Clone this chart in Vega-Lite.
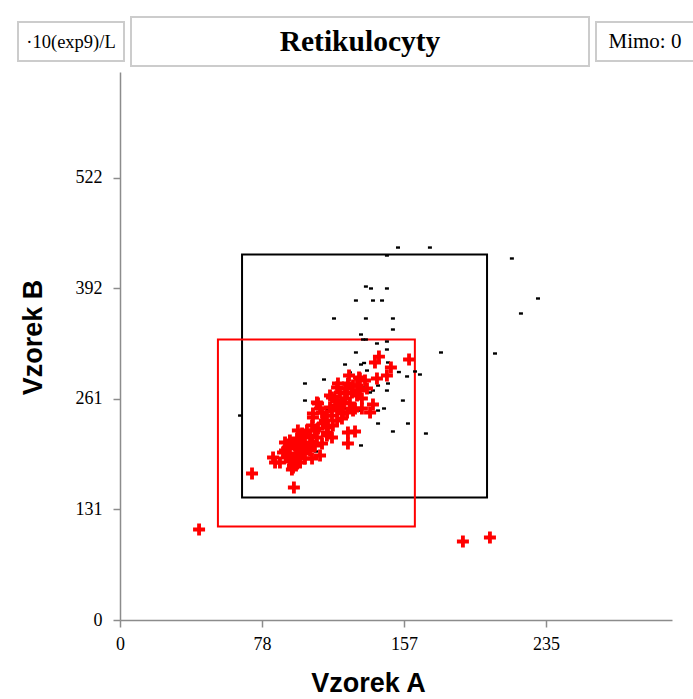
{
  "$schema": "https://vega.github.io/schema/vega-lite/v6.json",
  "padding": {"left": 17, "top": 16, "right": 0, "bottom": 0},
  "background": "white",
  "spacing": 5,
  "datasets": {
    "gates": [
      {"gate": "A", "a": 67.3, "a2": 202.4, "b": 144.5, "b2": 431.2},
      {"gate": "B", "a": 54.0, "a2": 162.6, "b": 110.3, "b2": 330.9}
    ],
    "black": [
      {"a": 153.3, "b": 439.4}, {"a": 170.9, "b": 439.4}, {"a": 147.2, "b": 430.0}, {"a": 216.1, "b": 426.5},
      {"a": 135.6, "b": 393.4}, {"a": 138.4, "b": 391.1}, {"a": 147.2, "b": 391.1}, {"a": 130.1, "b": 376.9},
      {"a": 139.5, "b": 376.9}, {"a": 144.5, "b": 376.9}, {"a": 230.5, "b": 379.3}, {"a": 221.1, "b": 361.6},
      {"a": 118.0, "b": 355.7}, {"a": 135.6, "b": 355.7}, {"a": 150.5, "b": 355.7}, {"a": 150.5, "b": 342.7},
      {"a": 132.9, "b": 336.8}, {"a": 134.0, "b": 330.9}, {"a": 135.6, "b": 330.9}, {"a": 147.2, "b": 328.5},
      {"a": 141.7, "b": 326.2}, {"a": 147.2, "b": 319.1}, {"a": 130.1, "b": 315.6}, {"a": 177.0, "b": 315.6},
      {"a": 206.8, "b": 314.4}, {"a": 124.1, "b": 301.4}, {"a": 132.9, "b": 301.4}, {"a": 134.6, "b": 303.2},
      {"a": 147.8, "b": 303.8}, {"a": 136.2, "b": 294.3}, {"a": 126.8, "b": 292.0}, {"a": 153.8, "b": 292.5},
      {"a": 162.7, "b": 293.2}, {"a": 165.4, "b": 289.6}, {"a": 158.3, "b": 287.3}, {"a": 112.5, "b": 283.7},
      {"a": 102.0, "b": 279.0}, {"a": 147.8, "b": 279.0}, {"a": 142.3, "b": 276.6}, {"a": 135.6, "b": 273.1},
      {"a": 139.5, "b": 270.7}, {"a": 137.9, "b": 268.4}, {"a": 147.2, "b": 270.7}, {"a": 102.0, "b": 258.9},
      {"a": 156.0, "b": 258.9}, {"a": 114.7, "b": 248.3}, {"a": 132.9, "b": 247.1}, {"a": 142.3, "b": 247.1},
      {"a": 145.6, "b": 249.5}, {"a": 66.2, "b": 241.2}, {"a": 142.3, "b": 231.8}, {"a": 158.8, "b": 231.8},
      {"a": 150.5, "b": 222.4}, {"a": 168.7, "b": 220.0}, {"a": 118.6, "b": 215.3}, {"a": 132.9, "b": 205.9},
      {"a": 108.1, "b": 198.8}, {"a": 123.5, "b": 249.5}, {"a": 134.0, "b": 274.3}
    ],
    "red": [
      {"a": 159.4, "b": 307.3}, {"a": 142.8, "b": 310.8}, {"a": 140.6, "b": 303.8}, {"a": 149.4, "b": 297.9},
      {"a": 147.2, "b": 288.4}, {"a": 141.7, "b": 284.9}, {"a": 132.3, "b": 284.9}, {"a": 128.5, "b": 276.6},
      {"a": 125.7, "b": 279.0}, {"a": 119.7, "b": 274.3}, {"a": 121.3, "b": 268.4}, {"a": 125.2, "b": 267.2},
      {"a": 130.7, "b": 264.8}, {"a": 133.4, "b": 261.3}, {"a": 116.9, "b": 262.5}, {"a": 119.7, "b": 258.9},
      {"a": 123.0, "b": 256.6}, {"a": 126.8, "b": 255.4}, {"a": 128.5, "b": 247.1}, {"a": 125.2, "b": 244.8},
      {"a": 119.7, "b": 247.1}, {"a": 116.9, "b": 241.2}, {"a": 119.7, "b": 235.4}, {"a": 117.4, "b": 229.5},
      {"a": 114.1, "b": 241.2}, {"a": 110.3, "b": 249.5}, {"a": 108.6, "b": 256.6}, {"a": 111.4, "b": 244.8},
      {"a": 106.4, "b": 238.9}, {"a": 105.9, "b": 229.5}, {"a": 109.2, "b": 225.9}, {"a": 114.1, "b": 221.2},
      {"a": 116.9, "b": 215.3}, {"a": 111.4, "b": 208.2}, {"a": 108.6, "b": 215.3}, {"a": 103.1, "b": 223.6},
      {"a": 100.4, "b": 220.0}, {"a": 97.6, "b": 214.1}, {"a": 95.4, "b": 208.2}, {"a": 92.6, "b": 203.5},
      {"a": 91.0, "b": 200.0}, {"a": 93.7, "b": 196.4}, {"a": 96.5, "b": 190.5}, {"a": 99.3, "b": 185.8},
      {"a": 95.4, "b": 182.3}, {"a": 88.2, "b": 185.8}, {"a": 85.5, "b": 185.8}, {"a": 84.4, "b": 191.7},
      {"a": 100.9, "b": 196.4}, {"a": 103.7, "b": 202.3}, {"a": 105.9, "b": 209.4}, {"a": 110.3, "b": 194.1},
      {"a": 105.9, "b": 190.5}, {"a": 100.4, "b": 208.2}, {"a": 102.0, "b": 215.3}, {"a": 98.1, "b": 223.6},
      {"a": 95.4, "b": 179.9}, {"a": 94.8, "b": 177.5}, {"a": 72.8, "b": 172.8}, {"a": 95.9, "b": 156.3},
      {"a": 125.7, "b": 221.2}, {"a": 129.6, "b": 222.4}, {"a": 125.7, "b": 208.2}, {"a": 139.5, "b": 254.2},
      {"a": 137.9, "b": 244.8}, {"a": 133.4, "b": 249.5}, {"a": 132.3, "b": 270.7}, {"a": 136.2, "b": 273.1},
      {"a": 129.6, "b": 249.5}, {"a": 123.0, "b": 243.6}, {"a": 115.8, "b": 250.7}, {"a": 114.7, "b": 227.1},
      {"a": 111.9, "b": 231.8}, {"a": 97.6, "b": 202.3}, {"a": 92.1, "b": 191.7}, {"a": 89.9, "b": 197.6},
      {"a": 102.0, "b": 190.5}, {"a": 99.3, "b": 200.0}, {"a": 115.8, "b": 264.8}, {"a": 120.2, "b": 279.0},
      {"a": 124.1, "b": 273.1}, {"a": 126.3, "b": 288.4}, {"a": 131.8, "b": 286.1}, {"a": 109.2, "b": 255.4},
      {"a": 106.4, "b": 243.6}, {"a": 93.7, "b": 211.8}, {"a": 96.5, "b": 205.9}, {"a": 99.3, "b": 211.8},
      {"a": 102.0, "b": 203.5}, {"a": 104.8, "b": 200.0}, {"a": 107.5, "b": 205.9}, {"a": 98.1, "b": 194.1},
      {"a": 93.7, "b": 188.2}, {"a": 91.0, "b": 209.4}, {"a": 104.8, "b": 217.7}, {"a": 107.5, "b": 223.6},
      {"a": 113.0, "b": 235.4}, {"a": 121.3, "b": 253.0}, {"a": 124.1, "b": 261.3}, {"a": 127.9, "b": 268.4},
      {"a": 130.7, "b": 276.6}, {"a": 135.1, "b": 282.5}, {"a": 118.6, "b": 253.0}, {"a": 122.4, "b": 237.7},
      {"a": 114.1, "b": 217.7}, {"a": 43.6, "b": 106.8}, {"a": 189.1, "b": 92.6}, {"a": 204.0, "b": 97.3}
    ]
  },
  "vconcat": [
    {
      "hconcat": [
        {
          "width": 106, "height": 39,
          "view": {"stroke": "#cccccc", "strokeWidth": 2, "fill": "white"},
          "data": {"values": [{"t": "·10(exp9)/L"}]},
          "mark": {"type": "text", "font": "Liberation Serif", "fontSize": 18.5, "color": "#000000"},
          "encoding": {"text": {"field": "t", "type": "nominal"}}
        },
        {
          "width": 458, "height": 49,
          "view": {"stroke": "#cccccc", "strokeWidth": 2, "fill": "white"},
          "data": {"values": [{"t": "Retikulocyty"}]},
          "mark": {"type": "text", "font": "Liberation Serif", "fontSize": 29.5, "fontWeight": "bold", "color": "#000000"},
          "encoding": {"text": {"field": "t", "type": "nominal"}}
        },
        {
          "width": 98, "height": 39,
          "view": {"stroke": "#cccccc", "strokeWidth": 2, "fill": "white"},
          "data": {"values": [{"t": "Mimo: 0"}]},
          "mark": {"type": "text", "font": "Liberation Serif", "fontSize": 21, "color": "#000000"},
          "encoding": {"text": {"field": "t", "type": "nominal"}}
        }
      ],
      "spacing": 5,
      "center": true
    },
    {
      "hconcat": [
        {
          "width": 1, "height": 1,
          "view": {"stroke": null},
          "data": {"values": []},
          "mark": {"type": "point", "opacity": 0}
        },
        {
          "width": 552,
          "height": 548,
          "view": {"stroke": null},
          "encoding": {
            "x": {
              "field": "a", "type": "quantitative", "title": "Vzorek A",
              "scale": {"domain": [0, 304.4], "nice": false, "zero": false},
              "axis": {
                "values": [0, 78.3, 156.6, 234.9], "format": ".0f", "grid": false,
                "domainColor": "#8c8c8c", "tickColor": "#8c8c8c", "tickSize": 7, "domainWidth": 1.5, "tickWidth": 1.5,
                "labelFont": "Liberation Serif", "labelFontSize": 18, "labelColor": "#000000", "labelPadding": 8,
                "labelFlush": false, "labelOverlap": false,
                "titleFont": "Liberation Sans", "titleFontSize": 27, "titleFontWeight": "bold", "titleColor": "#000000",
                "titleX": 248, "titleY": 50, "titleAlign": "center", "titleBaseline": "top"
              }
            },
            "y": {
              "field": "b", "type": "quantitative", "title": "Vzorek B",
              "scale": {"domain": [0, 646.5], "nice": false, "zero": false},
              "axis": {
                "values": [0, 130.5, 261, 391.5, 522], "format": ".0f", "grid": false,
                "domainColor": "#8c8c8c", "tickColor": "#8c8c8c", "tickSize": 7, "domainWidth": 1.5, "tickWidth": 1.5,
                "labelFont": "Liberation Serif", "labelFontSize": 18, "labelColor": "#000000", "labelPadding": 11,
                "labelFlush": false, "labelOverlap": false,
                "titleFont": "Liberation Sans", "titleFontSize": 27, "titleFontWeight": "bold", "titleColor": "#000000",
                "titleX": -73, "titleY": 265, "titleAngle": 270, "titleAlign": "center", "titleBaseline": "bottom"
              }
            }
          },
          "layer": [
            {
              "data": {"name": "gates"},
              "mark": {"type": "rect", "fill": "transparent", "strokeWidth": 2},
              "encoding": {
                "x2": {"field": "a2"},
                "y2": {"field": "b2"},
                "stroke": {"field": "gate", "type": "nominal", "scale": {"domain": ["A", "B"], "range": ["#000000", "#ff0000"]}, "legend": null}
              }
            },
            {
              "data": {"name": "black"},
              "mark": {"type": "point", "filled": true, "opacity": 1, "color": "#000000", "strokeWidth": 0, "size": 16,
                       "shape": "M-1,-0.6L1,-0.6L1,0.6L-1,0.6Z"}
            },
            {
              "data": {"name": "red"},
              "mark": {"type": "point", "filled": true, "opacity": 1, "color": "#ff0000", "strokeWidth": 0, "size": 144,
                       "shape": "M-1,-0.32L-0.32,-0.32L-0.32,-1L0.32,-1L0.32,-0.32L1,-0.32L1,0.32L0.32,0.32L0.32,1L-0.32,1L-0.32,0.32L-1,0.32Z"}
            }
          ]
        }
      ],
      "spacing": 0
    }
  ]
}
